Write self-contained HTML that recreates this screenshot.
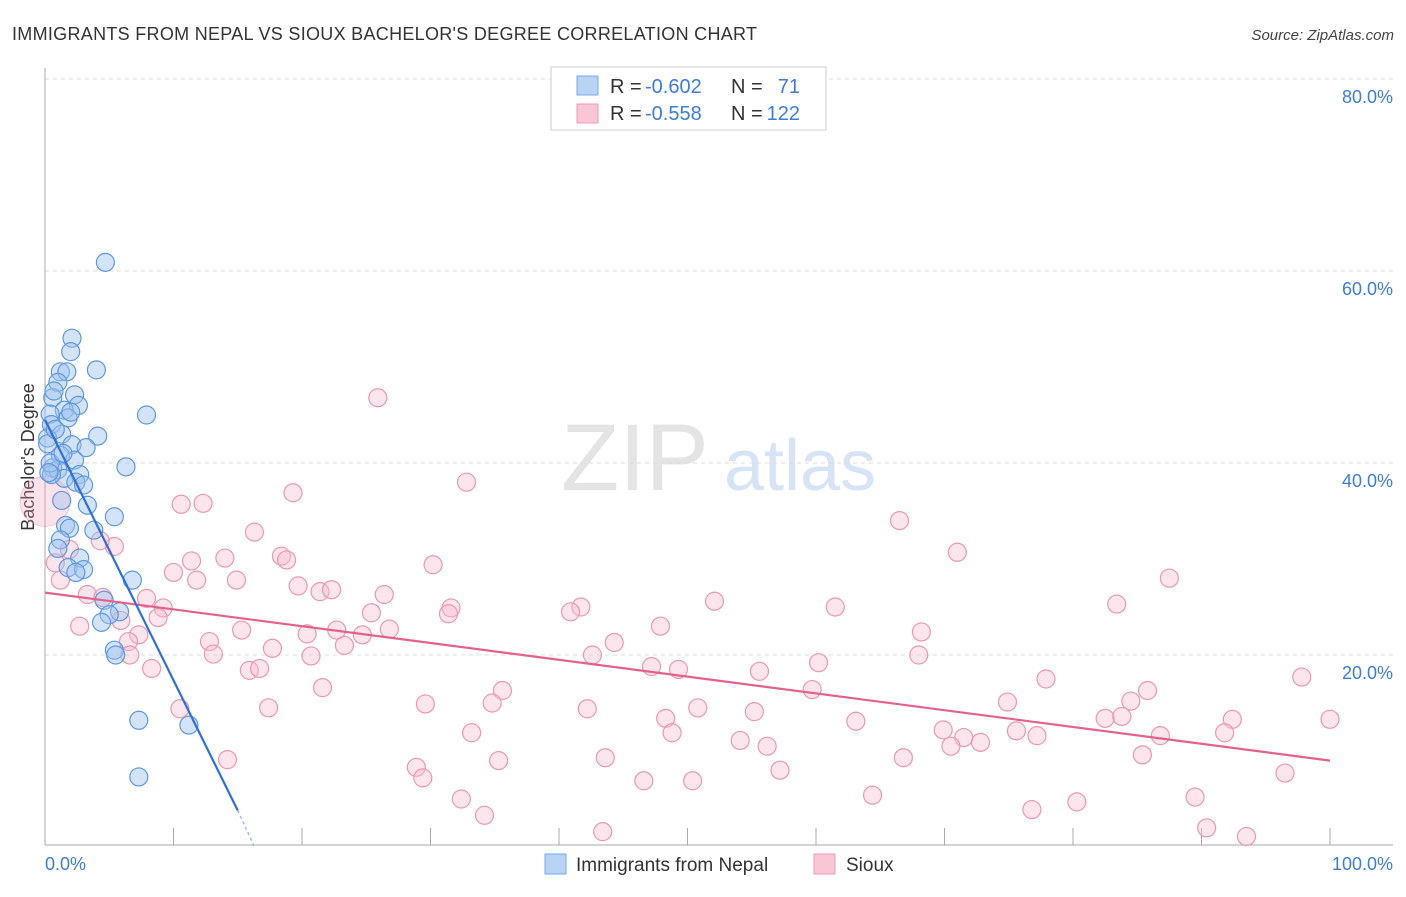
<!DOCTYPE html>
<html><head><meta charset="utf-8"><style>
body{margin:0;background:#fff;font-family:"Liberation Sans",sans-serif}
svg text{font-family:"Liberation Sans",sans-serif}
</style></head><body>
<svg id="chart" width="1406" height="892" viewBox="0 0 1406 892" xmlns="http://www.w3.org/2000/svg">
<text x="12" y="40" font-size="18" fill="#333" textLength="745">IMMIGRANTS FROM NEPAL VS SIOUX BACHELOR'S DEGREE CORRELATION CHART</text>
<text x="1394" y="40" font-size="15" fill="#444" text-anchor="end" font-style="italic">Source: ZipAtlas.com</text>
<g>
<text x="635" y="490" font-size="95" fill="#e4e4e4" text-anchor="middle" font-family="Liberation Serif">ZIP</text>
<text x="800" y="490" font-size="72" fill="#d6e4f5" text-anchor="middle">atlas</text>
</g>
<g id="grid"></g>
<g id="axes"></g>
<text transform="translate(34,457) rotate(-90)" font-size="18" fill="#333" text-anchor="middle">Bachelor's Degree</text>
<g id="marks"></g>
<g>
<rect x="551" y="67" width="275" height="63" fill="#fff" stroke="#ccc"/>
<rect x="577" y="76" width="21" height="19" fill="#b9d3f5" stroke="#7aa8e8"/>
<rect x="577" y="104" width="21" height="19" fill="#f9c6d5" stroke="#ee9ab3"/>
<text x="610" y="93" font-size="20" fill="#333">R =</text>
<text x="645" y="93" font-size="20" fill="#3b7dd8">-0.602</text>
<text x="731" y="93" font-size="20" fill="#333">N =</text>
<text x="800" y="93" font-size="20" fill="#3b7dd8" text-anchor="end">71</text>
<text x="610" y="120" font-size="20" fill="#333">R =</text>
<text x="645" y="120" font-size="20" fill="#3b7dd8">-0.558</text>
<text x="731" y="120" font-size="20" fill="#333">N =</text>
<text x="800" y="120" font-size="20" fill="#3b7dd8" text-anchor="end">122</text>
</g>
<g>
<rect x="545" y="854" width="21" height="20" fill="#b9d3f5" stroke="#7aa8e8"/>
<text x="576" y="871" font-size="19" fill="#333">Immigrants from Nepal</text>
<rect x="814" y="854" width="21" height="20" fill="#f9c6d5" stroke="#ee9ab3"/>
<text x="846" y="871" font-size="19" fill="#333">Sioux</text>
</g>
</svg>
<script>
const yTicks=[20,40,60,80];
const yTickLabels=["20.0%","40.0%","60.0%","80.0%"];
const nepalX=[4.7,2.1,2.0,4.0,1.2,1.7,1.0,2.3,0.6,2.6,7.9,1.5,0.4,1.8,0.5,4.1,1.3,0.2,2.1,3.2,1.2,2.3,6.3,0.6,1.0,2.7,1.5,2.4,3.0,0.5,1.3,3.3,5.4,1.6,1.9,3.8,1.2,1.0,2.7,1.8,3.0,2.4,6.8,4.6,5.8,5.0,4.4,5.4,5.5,7.3,11.2,7.3,0.2,0.8,0.4,1.4,0.3,2.0,0.7];
const nepalY=[60.9,53.0,51.6,49.7,49.5,49.5,48.4,47.1,46.8,46.0,45.0,45.5,45.1,44.7,44.0,42.8,43.0,42.6,41.9,41.6,40.8,40.3,39.6,39.5,39.3,38.8,38.4,38.0,37.7,38.8,36.1,35.6,34.4,33.5,33.2,33.0,32.0,31.1,30.1,29.1,28.9,28.6,27.8,25.7,24.5,24.2,23.4,20.5,20.0,13.2,12.7,7.3,42.0,43.5,40.0,41.0,39.0,45.3,47.5];
const siouxX=[25.9,32.8,12.3,10.6,19.3,16.3,66.5,71.0,5.4,4.3,1.9,0.8,14.0,18.4,18.8,11.4,30.2,87.5,10.0,11.8,14.9,19.7,1.2,21.4,22.3,26.4,3.3,4.5,7.9,52.1,83.4,41.7,61.5,40.9,31.6,31.4,25.4,9.2,8.8,5.9,2.7,47.9,15.3,22.7,26.8,68.2,20.4,24.7,7.3,6.5,12.8,23.3,44.3,17.7,13.1,6.6,20.7,42.6,68.0,60.2,8.3,15.9,16.7,47.2,49.3,55.6,77.9,97.8,21.6,35.6,59.7,85.8,84.5,74.9,34.8,29.6,17.4,10.5,42.2,50.8,55.2,48.3,82.5,83.8,63.1,92.4,100,75.6,69.9,77.2,33.2,48.8,86.8,91.8,71.5,72.8,54.1,56.2,70.5,85.4,66.8,43.6,35.3,14.2,28.9,57.2,29.4,46.6,50.4,96.5,64.4,32.4,89.5,80.3,76.8,34.2,90.4,43.4,93.5];
const siouxY=[46.8,38.0,35.8,35.7,36.9,32.8,34.0,30.7,31.3,31.9,31.0,29.6,30.1,30.3,29.9,29.8,29.4,28.0,28.6,27.8,27.8,27.2,27.8,26.6,26.8,26.3,26.3,26.0,25.9,25.6,25.3,25.0,25.0,24.5,24.9,24.3,24.4,24.9,23.9,23.6,23.0,23.0,22.6,22.6,22.7,22.4,22.2,22.1,22.1,21.4,21.4,21.0,21.3,20.7,20.1,20.0,19.9,20.0,20.0,19.2,18.6,18.4,18.6,18.8,18.5,18.3,17.5,17.7,16.6,16.3,16.4,16.3,15.2,15.1,15.0,14.9,14.5,14.4,14.4,14.5,14.1,13.4,13.4,13.6,13.1,13.3,13.3,12.1,12.2,11.6,11.9,11.9,11.6,11.9,11.4,10.9,11.1,10.5,10.5,9.6,9.3,9.3,9.0,9.1,8.3,8.0,7.2,6.9,6.9,7.7,5.4,5.0,5.2,4.7,3.9,3.3,2.0,1.6,1.1];
const nepalTrend=[[0,44.5],[15,3.8]];
const nepalTrendDash=[[15,3.8],[16.3,0]];
const siouxTrend=[[0,26.5],[100,9.0]];
const NS="http://www.w3.org/2000/svg";
const X=v=>45+v*12.85, Y=v=>847-v*9.6;
function mk(tag,attrs,parent){const e=document.createElementNS(NS,tag);for(const k in attrs)e.setAttribute(k,attrs[k]);parent.appendChild(e);return e;}
const grid=document.getElementById('grid'),axes=document.getElementById('axes'),marks=document.getElementById('marks');
yTicks.forEach((t,i)=>{
 const l=mk('line',{x1:45,x2:1393,y1:Y(t),y2:Y(t),stroke:'#ddd','stroke-dasharray':'4,4'},grid);
 
 
 const tx=mk('text',{x:1393,y:Y(t)+24,'font-size':18,fill:'#3b7dd8','text-anchor':'end'},axes);
 tx.textContent=yTickLabels[i];
 
 
});
mk('line',{x1:45,x2:45,y1:68,y2:845,stroke:'#aaa'},axes);
mk('line',{x1:45,x2:1393,y1:845,y2:845,stroke:'#aaa'},axes);
for(let i=1;i<=10;i++){mk('line',{x1:X(i*10),x2:X(i*10),y1:828,y2:845,stroke:'#aaa'},axes);}
const x0=mk('text',{x:45,y:870,'font-size':18,fill:'#3b7dd8'},axes);x0.textContent='0.0%';


const x1=mk('text',{x:1393,y:870,'font-size':18,fill:'#3b7dd8','text-anchor':'end'},axes);x1.textContent='100.0%';


const big=mk('circle',{cx:X(0),cy:Y(36),r:25,fill:'rgba(244,160,185,0.3)',stroke:'rgba(230,130,160,0.4)'},marks);


siouxX.forEach((v,i)=>{const c=mk('circle',{cx:X(v),cy:Y(siouxY[i]),r:9,fill:'rgba(248,190,208,0.4)',stroke:'#eb97b1','stroke-width':1.2},marks);
 
 });
nepalX.forEach((v,i)=>{const c=mk('circle',{cx:X(v),cy:Y(nepalY[i]),r:9,fill:'rgba(160,196,240,0.45)',stroke:'#5f97e0','stroke-width':1.2},marks);
 
 });
const sl=mk('line',{x1:X(siouxTrend[0][0]),y1:Y(siouxTrend[0][1]),x2:X(siouxTrend[1][0]),y2:Y(siouxTrend[1][1]),stroke:'#e4618c','stroke-width':2.2},marks);


const nl=mk('line',{x1:X(nepalTrend[0][0]),y1:Y(nepalTrend[0][1]),x2:X(nepalTrend[1][0]),y2:Y(nepalTrend[1][1]),stroke:'#2f6fd6','stroke-width':2.2},marks);


const nd=mk('line',{x1:X(nepalTrendDash[0][0]),y1:Y(nepalTrendDash[0][1]),x2:X(nepalTrendDash[1][0]),y2:Y(nepalTrendDash[1][1]),stroke:'#9bbbe8','stroke-width':1.5,'stroke-dasharray':'3,3'},marks);


</script>
</body></html>
